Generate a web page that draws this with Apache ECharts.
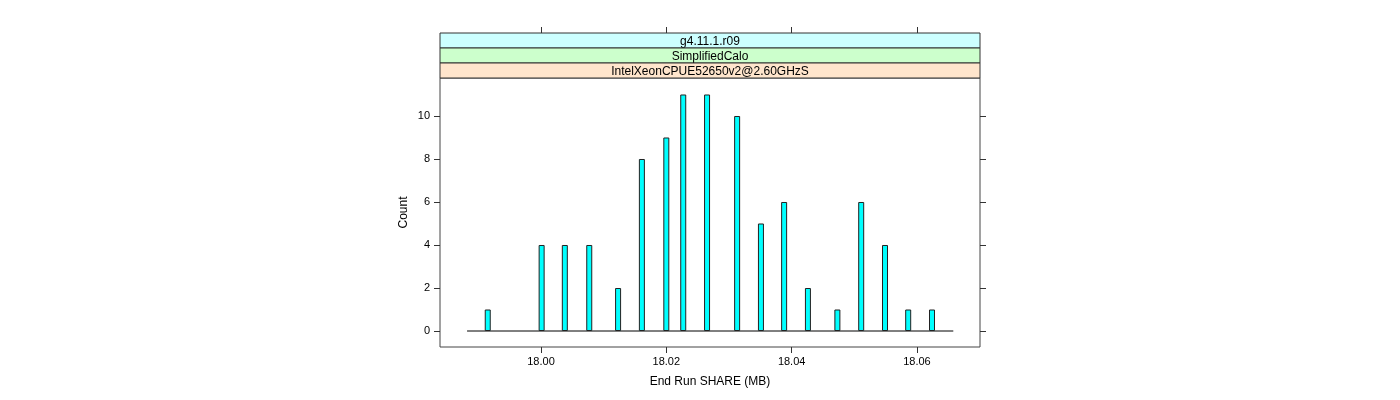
<!DOCTYPE html>
<html>
<head>
<meta charset="utf-8">
<script src="https://cdn.jsdelivr.net/npm/echarts@6/dist/echarts.min.js"></script>
<style>
  html, body { margin: 0; padding: 0; background: #fff; }
  #main { width: 1400px; height: 400px; }
</style>
</head>
<body>
<div id="main"></div>
<script>
// histogram bins (value of bin centre, count)
var binCenters = [17.9915, 18.0001, 18.0038, 18.0077, 18.0123, 18.0161, 18.0200, 18.0227, 18.0265,
  18.0313, 18.0351, 18.0388, 18.0426, 18.0473, 18.0511, 18.0549, 18.0586, 18.0624]
var counts = [1, 4, 4, 4, 2, 8, 9, 11, 11, 10, 5, 6, 2, 1, 6, 4, 1, 1]
var baseRange = [17.9882, 18.0658]
var xTicks = [18.00, 18.02, 18.04, 18.06]
var yTicks = [0, 2, 4, 6, 8, 10]
var stripLabels = ['g4.11.1.r09', 'SimplifiedCalo', 'IntelXeonCPUE52650v2@2.60GHzS']
var stripColors = ['#ccffff', '#ccffcc', '#ffe5cc']

var chart = echarts.init(document.getElementById('main'))

var panelLeft = 440
var panelTop = 78
var panelW = 540
var panelH = 269
var stripH = 15
var font = 'Liberation Sans'

var graphics = []
stripLabels.forEach(function (lab, i) {
  var y0 = panelTop - stripH * (stripLabels.length - i)
  graphics.push({
    type: 'rect',
    x: panelLeft,
    y: y0,
    shape: { x: 0, y: 0, width: panelW, height: stripH },
    style: { fill: stripColors[i], stroke: '#333', lineWidth: 1 }
  })
  graphics.push({
    type: 'text',
    x: panelLeft + panelW / 2,
    y: y0 + stripH / 2 + 1,
    style: { text: lab, fill: '#000', font: '12px ' + font, align: 'center', verticalAlign: 'middle' }
  })
})

var barData = binCenters.map(function (x, i) { return [x, counts[i]] })

var tickStyle = { show: true, length: 6, lineStyle: { color: '#333' } }

var options = {
  animation: false,
  textStyle: { fontFamily: font },
  grid: {
    left: panelLeft,
    top: panelTop,
    width: panelW,
    height: panelH,
    show: true,
    borderColor: '#444',
    borderWidth: 1
  },
  xAxis: [
    {
      type: 'value',
      position: 'bottom',
      min: 17.98388,
      max: 18.07006,
      name: 'End Run SHARE (MB)',
      nameLocation: 'middle',
      nameGap: 29,
      nameTextStyle: { color: '#000', fontSize: 12, fontFamily: font },
      axisLine: { show: false, onZero: false },
      axisTick: Object.assign({ customValues: xTicks }, tickStyle),
      axisLabel: {
        color: '#000', fontSize: 11, margin: 9, customValues: xTicks,
        formatter: function (v) { return v.toFixed(2) }
      },
      splitLine: { show: false }
    },
    {
      type: 'value',
      position: 'top',
      offset: stripH * 3,
      min: 17.98388,
      max: 18.07006,
      axisLine: { show: false, onZero: false },
      axisTick: Object.assign({ customValues: xTicks }, tickStyle),
      axisLabel: { show: false },
      splitLine: { show: false }
    }
  ],
  yAxis: [
    {
      type: 'value',
      position: 'left',
      min: -0.744,
      max: 11.767,
      name: 'Count',
      nameLocation: 'middle',
      nameGap: 30,
      nameTextStyle: { color: '#000', fontSize: 12, fontFamily: font },
      axisLine: { show: false, onZero: false },
      axisTick: Object.assign({ customValues: yTicks }, tickStyle),
      axisLabel: { color: '#000', fontSize: 11, margin: 10, customValues: yTicks },
      splitLine: { show: false }
    },
    {
      type: 'value',
      position: 'right',
      min: -0.744,
      max: 11.767,
      axisLine: { show: false, onZero: false },
      axisTick: Object.assign({ customValues: yTicks }, tickStyle),
      axisLabel: { show: false },
      splitLine: { show: false }
    }
  ],
  graphic: graphics,
  series: [
    {
      name: 'base',
      type: 'line',
      data: [[baseRange[0], 0], [baseRange[1], 0]],
      symbol: 'none',
      lineStyle: { color: '#000', width: 1 },
      z: 1
    },
    {
      name: 'count',
      type: 'bar',
      data: barData,
      barWidth: 6,
      itemStyle: { color: '#00ffff', borderColor: '#222', borderWidth: 1 },
      z: 2
    }
  ]
}
chart.setOption(options)
</script>
</body>
</html>
